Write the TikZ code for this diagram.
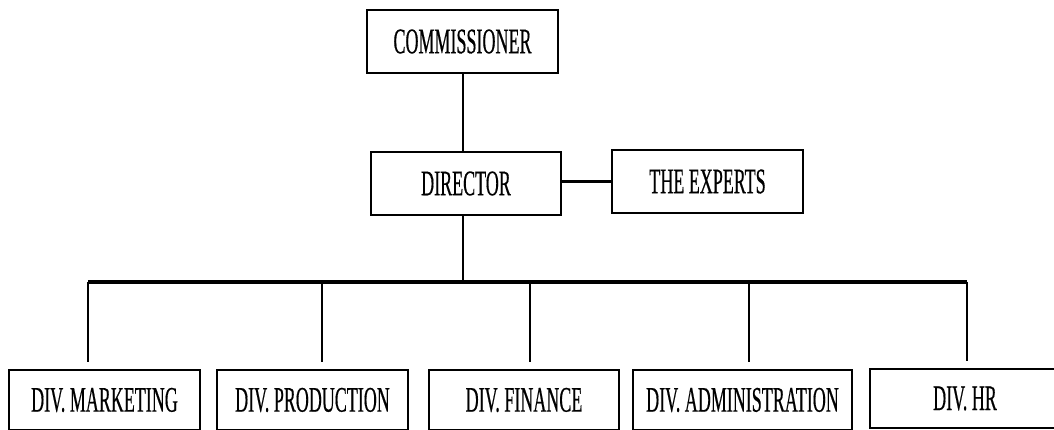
\documentclass[tikz,border=0pt]{standalone}
\usepackage{fontspec}
\setmainfont{Liberation Serif}[FakeStretch=0.5,FakeBold=0.4]
\begin{document}
\begin{tikzpicture}[x=1pt,y=-1pt,
  box/.style={draw, line width=1.1pt, inner sep=0pt, minimum height=63pt, minimum width=191pt,
    font=\fontsize{36}{38}\selectfont},
  thin/.style={line width=1.8pt},
  thick/.style={line width=3.5pt}]
\useasboundingbox (0,0) rectangle (1054,429);
\node[box] (com) at (462.5,41.5) {COMMISSIONER};
\node[box, minimum width=190pt] (dir) at (466,183.5) {DIRECTOR};
\node[box] (exp) at (707.5,181.5) {THE EXPERTS};
\node[box, minimum height=60pt] (mkt) at (104.5,400) {DIV. MARKETING};
\node[box, minimum height=60pt] (prd) at (312.5,400) {DIV. PRODUCTION};
\node[box, minimum height=60pt, minimum width=190pt] (fin) at (524,400) {DIV. FINANCE};
\node[box, minimum height=60pt, minimum width=219pt] (adm) at (742.5,400) {DIV. ADMINISTRATION};
\node[box, minimum height=59pt, minimum width=190pt] (hr) at (965,398.5) {DIV. HR};
\coordinate (c0) at (463,0);
\coordinate (b1) at (88,282);
\coordinate (b2) at (322,282);
\coordinate (b3) at (530,282);
\coordinate (b4) at (749,282);
\coordinate (b5) at (967,282);
\draw[thin] (c0 |- com.south) -- (c0 |- dir.north);
\draw[thin] (c0 |- dir.south) -- (c0 |- b1);
\draw[thick] (exp.west -| dir.east) -- (exp.west);
\draw[thick] (b1) -- (b5);
\draw[thin, shorten >=7pt] (b1) -- (b1 |- mkt.north);
\draw[thin, shorten >=7pt] (b2) -- (b2 |- prd.north);
\draw[thin, shorten >=7pt] (b3) -- (b3 |- fin.north);
\draw[thin, shorten >=7pt] (b4) -- (b4 |- adm.north);
\draw[thin, shorten >=7pt] (b5) -- (b5 |- hr.north);
\end{tikzpicture}
\end{document}
